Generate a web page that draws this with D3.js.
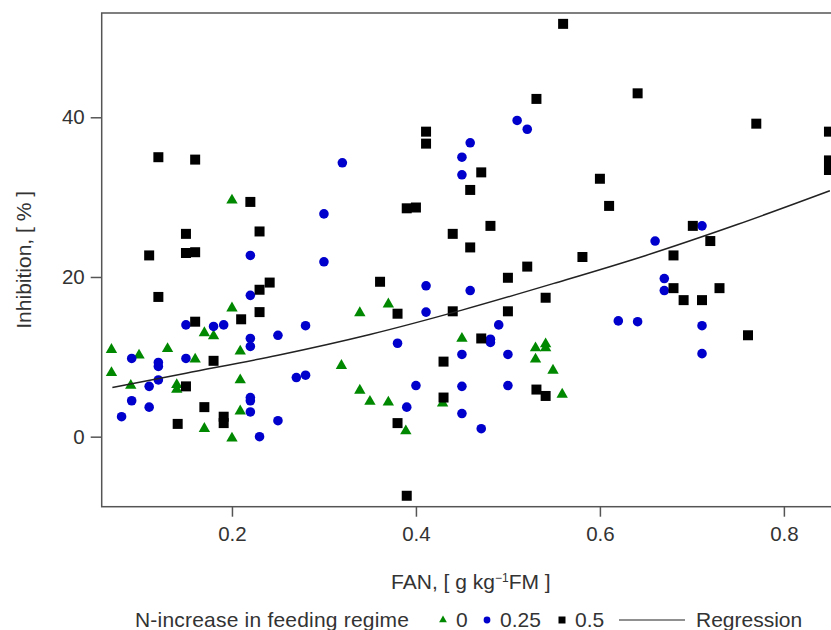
<!DOCTYPE html>
<html>
<head>
<meta charset="utf-8">
<script src="https://cdn.jsdelivr.net/npm/d3@7"></script>
<style>
  body { margin: 0; background: #fff; }
  svg { display: block; }
  text { font-family: "Liberation Sans", Arial, sans-serif; fill: #333; }
  .axis text { font-size: 20.5px; }
  .axis line { stroke: #555; stroke-width: 1.5; }
</style>
</head>
<body>
<svg id="thesvg" width="831" height="630"></svg>
<script>
'use strict';

// N-increase 0 (green triangles)
const fan0 = [0.069,0.069,0.090,0.099,0.130,0.140,0.140,0.160,0.170,0.180,0.200,0.200,0.209,0.209,0.209,0.170,0.200,
              0.319,0.339,0.339,0.350,0.370,0.370,0.389,0.429,0.450,0.530,0.530,0.541,0.541,0.549,0.559];
const inh0 = [10.9,8.0,6.4,10.2,11.0,6.5,5.9,9.7,13.0,12.6,29.6,16.1,10.7,7.1,3.2,1.0,-0.2,
              8.9,15.5,5.8,4.4,16.6,4.3,0.7,4.2,12.3,11.1,9.7,11.6,11.1,8.3,5.3];

// N-increase 0.25 (blue circles)
const fan25 = [0.080,0.091,0.091,0.110,0.110,0.120,0.120,0.120,0.150,0.150,0.180,0.191,0.220,0.220,0.220,0.220,0.220,0.220,0.220,
               0.230,0.250,0.250,0.270,0.280,0.280,0.300,0.300,0.320,0.380,0.390,0.400,0.411,0.411,0.450,0.450,0.459,0.459,
               0.450,0.450,0.450,0.471,0.481,0.481,0.490,0.500,0.500,0.510,0.521,0.620,0.641,0.660,0.670,0.670,0.711,0.711,0.711];
const inh25 = [2.5,9.8,4.5,6.3,3.7,9.3,8.8,7.1,14.0,9.8,13.8,14.0,22.7,17.7,12.3,11.3,4.9,4.5,3.1,
               0.0,12.7,2.0,7.4,13.9,7.7,27.9,21.9,34.3,11.7,3.7,6.4,18.9,15.6,35.0,32.8,36.8,18.3,
               10.3,6.3,2.9,1.0,12.2,11.8,14.0,10.3,6.4,39.6,38.5,14.5,14.4,24.5,19.8,18.3,26.4,13.9,10.4];

// N-increase 0.5 (black squares)
const fan50 = [0.120,0.160,0.220,0.230,0.150,0.110,0.150,0.160,0.120,0.241,0.230,0.230,0.210,0.160,0.180,0.150,0.170,0.141,0.191,0.191,
               0.411,0.411,0.459,0.390,0.400,0.440,0.459,0.361,0.380,0.440,0.430,0.430,0.380,0.390,0.531,0.471,0.481,0.600,0.610,
               0.581,0.521,0.500,0.541,0.500,0.471,0.531,0.541,0.560,0.641,0.770,0.849,0.849,0.849,0.701,0.720,0.680,0.680,0.691,
               0.711,0.730,0.761];
const inh50 = [35.0,34.7,29.4,25.7,25.4,22.7,23.0,23.1,17.5,19.3,18.4,15.6,14.7,14.4,9.5,6.3,3.7,1.6,2.5,1.7,
               38.2,36.7,30.9,28.6,28.7,25.4,23.7,19.4,15.4,15.7,9.4,4.9,1.7,-7.4,42.3,33.1,26.4,32.3,28.9,
               22.5,21.3,19.9,17.4,15.7,12.3,5.9,5.1,51.7,43.0,39.2,38.2,34.6,33.4,26.4,24.5,22.7,18.6,17.1,
               17.1,18.6,12.7];

// regression curve
const regX = [0.07,0.15,0.25,0.35,0.45,0.55,0.65,0.75,0.85];
const regY = [6.15,7.95,10.2,12.8,15.85,19.2,22.7,26.6,30.8];

const xTicks = [0.2,0.4,0.6,0.8],
      yTicks = [0,20,40];

const groups = [
  {label: "0",    fan: fan0,  inh: inh0,  color: "#008800", shape: d3.symbolTriangle, size: 56, lsize: 26},
  {label: "0.25", fan: fan25, inh: inh25, color: "#0000cc", shape: d3.symbolCircle,   size: 72, lsize: 36},
  {label: "0.5",  fan: fan50, inh: inh50, color: "#000000", shape: d3.symbolSquare,   size: 100, lsize: 49}
];

var svg = d3.select("#thesvg"),
    pLeft = 101.7, pRight = 840, pTop = 13, pBottom = 506.7;

var x = d3.scaleLinear().domain([0.0584, 0.861]).range([pLeft, pRight]),
    y = d3.scaleLinear().domain([-8.77, 53.06]).range([pBottom, pTop]);

// frame
svg.append("rect")
    .attr("x", pLeft).attr("y", pTop)
    .attr("width", pRight - pLeft).attr("height", pBottom - pTop)
    .attr("fill", "none").attr("stroke", "#555").attr("stroke-width", 1.5);

svg.append("g")
    .attr("class", "axis")
    .attr("transform", "translate(0," + pBottom + ")")
    .call(d3.axisBottom(x).tickValues(xTicks).tickFormat(d3.format(".1f"))
          .tickSize(10).tickSizeOuter(0).tickPadding(10))
    .call(g => g.select(".domain").remove());

svg.append("g")
    .attr("class", "axis")
    .attr("transform", "translate(" + pLeft + ",0)")
    .call(d3.axisLeft(y).tickValues(yTicks).tickSize(11).tickSizeOuter(0).tickPadding(6))
    .call(g => g.select(".domain").remove());

svg.selectAll(".axis text").attr("fill", "#333");

// axis titles
svg.append("text")
    .attr("transform", "translate(31," + ((pTop + pBottom) / 2) + ") rotate(-90)")
    .attr("text-anchor", "middle")
    .style("font-size", "21px")
    .text("Inhibition, [ % ]");

var xt = svg.append("text")
    .attr("x", (pLeft + pRight) / 2)
    .attr("y", 589)
    .attr("text-anchor", "middle")
    .style("font-size", "21px");
xt.append("tspan").text("FAN, [ g kg");
xt.append("tspan").attr("dy", -7).style("font-size", "12px").text("\u22121");
xt.append("tspan").attr("dy", 7).text("FM ]");

// points
var plot = svg.append("g");
groups.forEach(function(gr) {
  var pts = gr.fan.map(function(f, i) { return {fan: f, inh: gr.inh[i]}; });
  plot.selectAll(null)
      .data(pts)
    .enter().append("path")
      .attr("d", d3.symbol().type(gr.shape).size(gr.size))
      .attr("transform", function(d) { return "translate(" + x(d.fan) + "," + y(d.inh) + ")"; })
      .attr("fill", gr.color);
});

// regression
var reg = regX.map(function(v, i) { return [v, regY[i]]; });
svg.append("path")
    .datum(reg)
    .attr("fill", "none")
    .attr("stroke", "#222")
    .attr("stroke-width", 1.5)
    .attr("d", d3.line().x(function(d) { return x(d[0]); })
                        .y(function(d) { return y(d[1]); })
                        .curve(d3.curveMonotoneX));

// legend
var ly = 627, lg = svg.append("g").style("font-size", "21px");
lg.append("text").attr("x", 135).attr("y", ly).attr("textLength", 274).text("N-increase in feeding regime");
var lx = [443, 487, 562];
groups.forEach(function(gr, i) {
  lg.append("path")
      .attr("d", d3.symbol().type(gr.shape).size(gr.lsize))
      .attr("transform", "translate(" + lx[i] + "," + (ly - 7) + ")")
      .attr("fill", gr.color);
  lg.append("text").attr("x", lx[i] + 13).attr("y", ly).text(gr.label);
});
lg.append("line")
    .attr("x1", 619).attr("x2", 685)
    .attr("y1", ly - 7).attr("y2", ly - 7)
    .attr("stroke", "#222").attr("stroke-width", 1.2);
lg.append("text").attr("x", 696).attr("y", ly).text("Regression");
</script>
</body>
</html>
